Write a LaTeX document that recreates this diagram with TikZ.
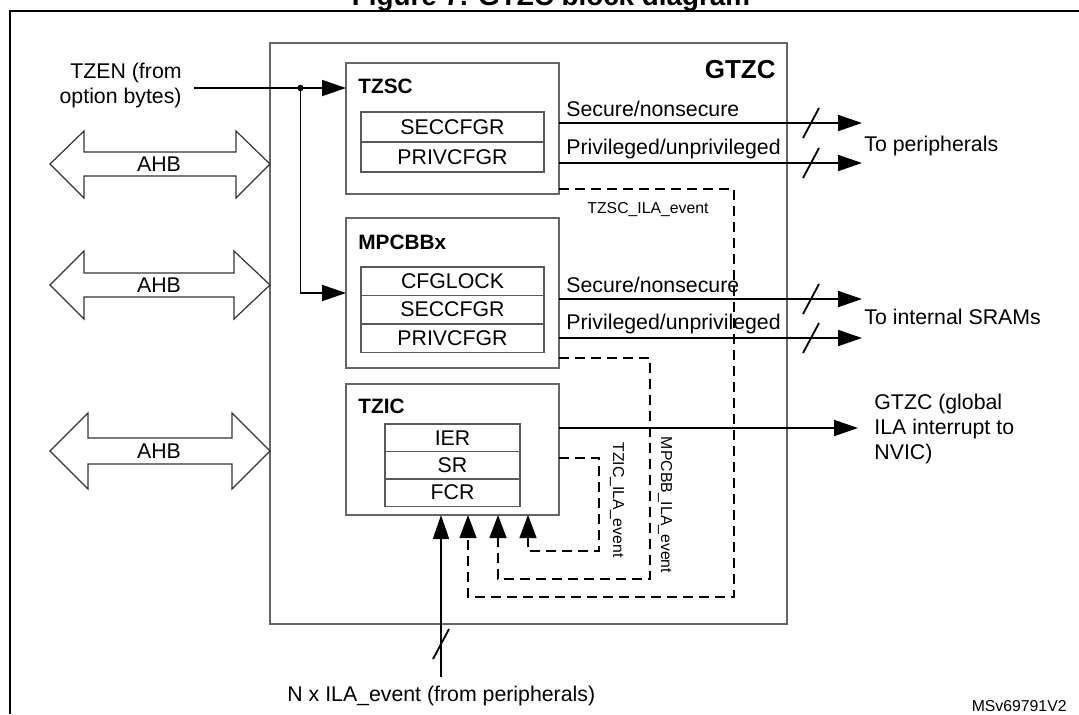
\documentclass[tikz,border=0pt]{standalone}
\usepackage{fontspec}
\setmainfont{Liberation Sans}
\usetikzlibrary{arrows.meta,positioning}

\tikzset{
  txt/.style = {font=\fontsize{10.65}{12.5}\selectfont, inner sep=0pt},
  smalltxt/.style = {font=\fontsize{7.9}{9.5}\selectfont, inner sep=0pt},
  blocklbl/.style = {font=\fontsize{10.4}{12.5}\selectfont\bfseries, inner sep=0pt, anchor=base west},
  blockbox/.style = {draw=black!60, line width=0.75pt, inner sep=0pt, outer sep=0pt, anchor=north west},
  regbox/.style = {txt, draw=black!65, line width=0.7pt, outer sep=0pt, anchor=north west, minimum width=#1},
  sig/.style = {line width=0.9pt},
  sigarrow/.style = {sig, -{Triangle[length=12pt,width=8pt]}},
  evt/.style = {line width=0.7pt, dash pattern=on 5pt off 3pt, -{Triangle[length=11.5pt,width=8.5pt]}},
  ahb/.style = {draw=black!80, line width=0.6pt},
}

\begin{document}
\begin{tikzpicture}[x=0.5pt, y=-0.5pt]
\useasboundingbox (0,0) rectangle (1079,714);
\clip (0,0) rectangle (1079,714);

\node[font=\fontsize{13.9}{16}\selectfont\bfseries, anchor=base] (title) at (551,5.5) {Figure 7. GTZC block diagram};
\draw[line width=1.2pt] (10,714) -- (10,11) -- (1079,11);

% GTZC
\node[blockbox, minimum width=258.5pt, minimum height=290.5pt] (gtzc) at (270,43) {};
\node[font=\fontsize{13}{15}\selectfont\bfseries, inner sep=0pt, anchor=base east] (gtzclbl) at (776,78) {GTZC};

% TZSC
\node[blockbox, minimum width=106.5pt, minimum height=65.5pt] (tzsc) at (346,63) {};
\node[blocklbl] (tzsclbl) at (358,93) {TZSC};
\node[regbox=91.5pt, minimum height=15pt] (tzscsec) at (361,112) {SECCFGR};
\node[regbox=91.5pt, minimum height=15pt, below=0pt of tzscsec] (tzscpriv) {PRIVCFGR};

% MPCBBx
\node[blockbox, minimum width=106.5pt, minimum height=75pt] (mpcbb) at (346,218) {};
\node[blocklbl] (mpcbblbl) at (358,249) {MPCBBx};
\node[regbox=91.5pt, minimum height=14.2pt] (mpcbblock) at (361,267) {CFGLOCK};
\node[regbox=91.5pt, minimum height=14.2pt, below=0pt of mpcbblock] (mpcbbsec) {SECCFGR};
\node[regbox=91.5pt, minimum height=14.2pt, below=0pt of mpcbbsec] (mpcbbpriv) {PRIVCFGR};

% TZIC
\node[blockbox, minimum width=106.5pt, minimum height=65.5pt] (tzic) at (346,384) {};
\node[blocklbl] (tziclbl) at (358,413) {TZIC};
\node[regbox=67.5pt, minimum height=13.7pt] (tzicier) at (385,424) {IER};
\node[regbox=67.5pt, minimum height=13.7pt, below=0pt of tzicier] (tzicsr) {SR};
\node[regbox=67.5pt, minimum height=13.7pt, below=0pt of tzicsr] (tzicfcr) {FCR};

% AHB
\draw[ahb] (50,164) -- (84,131) -- (84,152) -- (236,152) -- (236,131) -- (270,164) -- (236,198) -- (236,176) -- (84,176) -- (84,198) -- cycle;
\node[txt] (ahb1) at (159,164) {AHB};
\draw[ahb] (50,285) -- (84,251) -- (84,273) -- (234,273) -- (234,251) -- (270,285) -- (234,319) -- (234,297) -- (84,297) -- (84,319) -- cycle;
\node[txt] (ahb2) at (159,285) {AHB};
\draw[ahb] (50,451) -- (88,413) -- (88,438) -- (232,438) -- (232,413) -- (270,451) -- (232,489) -- (232,464) -- (88,464) -- (88,489) -- cycle;
\node[txt] (ahb3) at (159,451) {AHB};

% TZEN
\node[txt, align=right, anchor=east] (tzen) at (182,85) {TZEN (from\\option bytes)};
\coordinate (tzenin) at (194,88);
\coordinate (tzenbr) at (300.5,88);
\draw[sigarrow] (tzenin) -- (tzsc.west |- tzenin);
\draw[sigarrow] (tzenbr) |- (mpcbb.west);
\fill (tzenbr) circle (1.6pt);

% outputs
\coordinate (perisec) at (862,123);
\coordinate (peripriv) at (862,163);
\draw[sigarrow] (tzsc.east |- perisec) -- (perisec);
\draw[sigarrow] (tzsc.east |- peripriv) -- (peripriv);
\draw[sig] (803,138) -- (819,108);
\draw[sig] (803,178) -- (819,148);
\node[txt, anchor=base west] (tzscseclbl) at (566,116) {Secure/nonsecure};
\node[txt, anchor=base west] (tzscprivlbl) at (566,154) {Privileged/unprivileged};
\node[txt, anchor=base west] (toperi) at (864,151) {To peripherals};

\coordinate (sramsec) at (862,299);
\coordinate (srampriv) at (862,338);
\draw[sigarrow] (mpcbb.east |- sramsec) -- (sramsec);
\draw[sigarrow] (mpcbb.east |- srampriv) -- (srampriv);
\draw[sig] (803,314) -- (819,284);
\draw[sig] (803,353) -- (819,323);
\node[txt, anchor=base west] (mpcbbseclbl) at (566,292) {Secure/nonsecure};
\node[txt, anchor=base west] (mpcbbprivlbl) at (566,329) {Privileged/unprivileged};
\node[txt, anchor=base west] (tosram) at (864,324) {To internal SRAMs};

\coordinate (nvic) at (858,428);
\draw[sigarrow] (tzic.east |- nvic) -- (nvic);
\node[txt, align=left, anchor=base west] (nviclbl) at (874,459) {GTZC (global\\ILA interrupt to\\NVIC)};

% ILA events
\coordinate (ilain) at (441,677);
\draw[sigarrow] (ilain) -- (tzic.south -| ilain);
\draw[sig] (433,659) -- (449,629);
\node[txt, anchor=base west] (ilalbl) at (287,701) {N x ILA\_event (from peripherals)};

\draw[evt] (tzsc.east |- 0,189) -| (734,597) -| (tzic.south -| 468,0);
\draw[evt] (mpcbb.east |- 0,358) -| (650,579) -| (tzic.south -| 498,0);
\draw[evt] (tzic.east |- 0,458) -| (599,551) -| (tzic.south -| 528,0);
\node[smalltxt, anchor=base] (tzscevt) at (648,213) {TZSC\_ILA\_event};
\node[smalltxt, rotate=-90] (tzicevt) at (617,500) {TZIC\_ILA\_event};
\node[smalltxt, rotate=-90] (mpcbbevt) at (665,505) {MPCBB\_ILA\_event};

\node[smalltxt, anchor=base east] (msv) at (1067,711) {MSv69791V2};
\end{tikzpicture}
\end{document}
